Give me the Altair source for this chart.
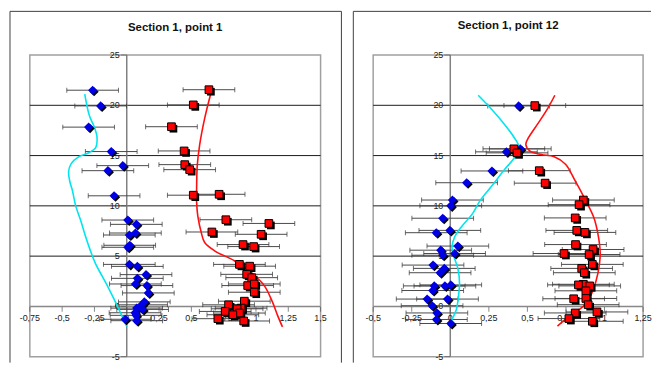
import altair as alt
import pandas as pd

# ---------------- Panel 1: Section 1, point 1 ----------------
p1_title = "Section 1, point 1"
p1_xticks = [-0.75, -0.5, -0.25, 0, 0.25, 0.5, 0.75, 1, 1.25, 1.5]
p1_xlabels = ["-0,75", "-0,5", "-0,25", "0", "0,25", "0,5", "0,75", "1", "1,25", "1,5"]
p1_blue_x = [-0.264, -0.202, -0.295, -0.12, -0.031, -0.146, -0.098, 0.008, 0.074, 0.02,
             0.067, 0.023, 0.008, 0.02, 0.082, 0.149, 0.082, 0.067, 0.156, 0.167,
             0.136, 0.115, 0.077, 0.123, 0.064, 0.072, -0.013, 0.077]
p1_blue_y = [21.5, 19.94, 17.83, 15.4, 14.0, 13.5, 11.0, 8.59, 8.16, 7.1,
             7.3, 6.08, 5.88, 4.18, 3.98, 3.16, 2.79, 2.23, 2.07, 1.34,
             0.45, 0.16, -0.17, -0.3, -0.63, -0.89, -1.28, -1.42]
p1_blue_err = [0.2] * 28
p1_red_x = [0.636, 0.515, 0.346, 0.444, 0.449, 0.487, 0.515, 0.715, 0.767, 1.1,
            0.659, 1.04, 0.9, 0.982, 0.872, 0.951, 0.928, 0.967, 0.936, 0.987,
            0.987, 0.91, 0.788, 0.885, 0.854, 0.762, 0.872, 0.821, 0.705, 0.905]
p1_red_y = [21.55, 20.04, 17.87, 15.46, 14.1, 13.6, 11.06, 11.15, 8.62, 8.25,
            7.4, 7.17, 6.15, 5.95, 4.18, 4.0, 3.19, 2.86, 2.07, 2.23,
            1.41, 0.52, 0.16, -0.17, -0.24, -0.5, -0.66, -0.83, -1.22, -1.45]
p1_red_err = [0.2] * 30
p1_cyan_x = [-0.325, -0.29, -0.25, -0.23, -0.24, -0.29, -0.37, -0.43, -0.45, -0.44, -0.42,
             -0.395, -0.355, -0.32, -0.28, -0.24, -0.19, -0.14, -0.09, -0.05, 0.0]
p1_cyan_y = [21.1, 19.0, 17.8, 16.8, 15.8, 15.3, 14.9, 14.2, 13.4, 12.4, 11.5,
             10.0, 8.5, 7.0, 5.5, 4.2, 3.0, 1.8, 0.5, -0.6, -2.0]
p1_redline_x = [0.65, 0.603, 0.564, 0.546, 0.541, 0.541, 0.55, 0.577, 0.603, 0.68,
                0.833, 0.96, 1.064, 1.128, 1.167, 1.205]
p1_redline_y = [21.15, 18.7, 16.05, 14.08, 12.0, 10.3, 8.98, 7.33, 6.35, 5.53,
                4.54, 3.39, 2.07, 0.42, -0.89, -2.04]

# ---------------- Panel 2: Section 1, point 12 ----------------
p2_title = "Section 1, point 12"
p2_xticks = [-0.5, -0.25, 0, 0.25, 0.5, 0.75, 1, 1.25]
p2_xlabels = ["-0,5", "-0,25", "0", "0,25", "0,5", "0,75", "1", "1,25"]
p2_blue_x = [0.443, 0.364, 0.454, 0.27, 0.106, 0.014, 0.003, -0.049, -0.091, -0.003,
             0.049, -0.062, 0.028, -0.049, -0.112, -0.039, -0.066, -0.104, -0.035, 0.003,
             -0.114, -0.15, -0.018, -0.118, -0.087, -0.09, 0.003]
p2_blue_y = [19.94, 15.37, 15.67, 13.47, 12.3, 10.58, 10.0, 8.77, 7.33, 7.56,
             6.0, 5.59, 5.26, 5.09, 4.11, 3.78, 3.35, 2.04, 2.04, 2.14,
             1.58, 0.73, 0.73, 0.07, -0.65, -1.3, -1.7]
p2_blue_err = [0.2] * 27
p2_red_x = [0.548, 0.412, 0.433, 0.577, 0.615, 0.863, 0.835, 0.81, 0.82, 0.873,
            0.812, 0.926, 0.737, 0.9, 0.921, 0.852, 0.869, 0.863, 0.831, 0.904,
            0.879, 0.8, 0.879, 0.894, 0.81, 0.951, 0.769, 0.921]
p2_red_y = [19.97, 15.67, 15.27, 13.5, 12.26, 10.58, 10.12, 8.8, 7.56, 7.36,
            6.15, 5.66, 5.26, 5.16, 4.18, 3.78, 3.35, 2.2, 2.14, 2.04,
            1.55, 0.76, 0.79, 0.17, -0.65, -0.55, -1.21, -1.48]
p2_red_err = [0.2] * 28
p2_cyan_x = [0.181, 0.25, 0.353, 0.416, 0.448, 0.416, 0.353, 0.27, 0.192, 0.143,
             0.07, 0.028, 0.011, 0.024, 0.049, 0.06, 0.053, 0.039, 0.011, 0.0]
p2_cyan_y = [21.0, 19.9, 18.07, 16.75, 15.76, 14.78, 13.63, 12.0, 10.5, 9.2,
             7.88, 6.9, 5.9, 4.93, 3.78, 2.3, 0.99, -0.33, -1.31, -1.8]
p2_redline_x = [0.678, 0.632, 0.569, 0.506, 0.49, 0.517, 0.59, 0.674, 0.747, 0.81,
                0.873, 0.93, 0.957, 0.972, 0.957, 0.926, 0.884, 0.82, 0.758, 0.695]
p2_redline_y = [21.0, 19.7, 18.2, 16.75, 16.1, 15.44, 15.1, 14.88, 14.13, 12.48,
                10.68, 8.87, 7.23, 5.26, 3.29, 1.65, 0.33, -0.49, -1.15, -1.97]

y_ticks = [25, 20, 15, 10, 5, 0, -5]
y_grid = [20, 15, 10, 5]

FONT = "Liberation Sans"
FRAME = "#404040"


def panel(title, xdom, xticks, xlabels, bx, by, be, rx, ry, re_, cx, cy, lx, ly,
          W, H, ftop, fleft, fright, fbot, right_side, title_y):
    xs = alt.Scale(domain=xdom, nice=False, zero=False)
    ys = alt.Scale(domain=[-5, 25], nice=False, zero=False)

    def X(f):
        return alt.X(f, type="quantitative", scale=xs, axis=None)

    def Y(f):
        return alt.Y(f, type="quantitative", scale=ys, axis=None)

    one = pd.DataFrame({"a": [0]})
    layers = []
    layers.append(alt.Chart(one).mark_rule(color=FRAME, strokeWidth=1).encode(
        x=alt.value(-fleft), y=alt.value(-ftop), y2=alt.value(H + fbot)))
    layers.append(alt.Chart(one).mark_rule(color=FRAME, strokeWidth=1).encode(
        x=alt.value(-fleft), x2=alt.value(W + fright), y=alt.value(-ftop)))
    if right_side:
        layers.append(alt.Chart(one).mark_rule(color=FRAME, strokeWidth=1).encode(
            x=alt.value(W + fright), y=alt.value(-ftop), y2=alt.value(H + fbot)))
    layers.append(alt.Chart(one).mark_text(font=FONT, fontSize=11.5, fontWeight="bold", color="#111",
                                           align="center", baseline="middle").encode(
        x=alt.value(W / 2), y=alt.value(title_y), text=alt.value(title)))

    layers.append(alt.Chart(pd.DataFrame({"gy": y_grid})).mark_rule(color="#1a1a1a", strokeWidth=1).encode(
        y=Y("gy")))
    layers.append(alt.Chart(pd.DataFrame({"gy": [0]})).mark_rule(color="#888888", strokeWidth=1.5).encode(
        y=Y("gy")))
    layers.append(alt.Chart(pd.DataFrame({"gx": [0]})).mark_rule(color="#808080", strokeWidth=1.5).encode(
        x=X("gx")))

    yt = pd.DataFrame({"tx": [0] * len(y_ticks), "ty": y_ticks, "lab": [str(v) for v in y_ticks]})
    layers.append(alt.Chart(yt).mark_tick(orient="horizontal", size=6, thickness=1, color="#555",
                                          xOffset=-3).encode(x=X("tx"), y=Y("ty")))
    layers.append(alt.Chart(yt).mark_text(font=FONT, fontSize=9, color="#222", align="right",
                                          baseline="middle", dx=-7).encode(x=X("tx"), y=Y("ty"), text="lab:N"))

    xt = pd.DataFrame({"tx": xticks, "ty": [0] * len(xticks), "lab": xlabels})
    layers.append(alt.Chart(xt).mark_tick(orient="vertical", size=5, thickness=1, color="#555",
                                          yOffset=3).encode(x=X("tx"), y=Y("ty")))
    layers.append(alt.Chart(xt).mark_text(font=FONT, fontSize=9, color="#222", align="center",
                                          baseline="middle", dy=12).encode(x=X("tx"), y=Y("ty"), text="lab:N"))

    ex = list(bx) + list(rx)
    ey = list(by) + list(ry)
    ee = list(be) + list(re_)
    err = pd.DataFrame({"lo": [a - e for a, e in zip(ex, ee)], "hi": [a + e for a, e in zip(ex, ee)], "y": ey})
    layers.append(alt.Chart(err).mark_rule(color="#4a4a4a", strokeWidth=1).encode(
        x=X("lo"), x2="hi", y=Y("y")))
    caps = pd.DataFrame({"cx": list(err["lo"]) + list(err["hi"]), "cy": ey + ey})
    layers.append(alt.Chart(caps).mark_tick(orient="vertical", size=5, thickness=1, color="#333").encode(
        x=X("cx"), y=Y("cy")))

    layers.append(alt.Chart(pd.DataFrame({"x": cx, "y": cy, "i": range(len(cx))})).mark_line(
        color="#00e5ee", strokeWidth=1.6, interpolate="catmull-rom").encode(x=X("x"), y=Y("y"), order="i:Q"))
    layers.append(alt.Chart(pd.DataFrame({"x": lx, "y": ly, "i": range(len(lx))})).mark_line(
        color="#ff1010", strokeWidth=1.6, interpolate="catmull-rom").encode(x=X("x"), y=Y("y"), order="i:Q"))

    bdf = pd.DataFrame({"x": bx, "y": by})
    rdf = pd.DataFrame({"x": rx, "y": ry})
    layers.append(alt.Chart(bdf).mark_point(shape="diamond", filled=True, size=85, color="black", opacity=1,
                                            xOffset=1.5, yOffset=1.5).encode(x=X("x"), y=Y("y")))
    layers.append(alt.Chart(bdf).mark_point(shape="diamond", filled=True, size=85, color="#0000e6",
                                            opacity=1).encode(x=X("x"), y=Y("y")))
    layers.append(alt.Chart(rdf).mark_point(shape="square", filled=True, size=60, color="black", opacity=1,
                                            xOffset=2, yOffset=2).encode(x=X("x"), y=Y("y")))
    layers.append(alt.Chart(rdf).mark_point(shape="square", filled=True, size=60, fill="#ff0000",
                                            stroke="#000", strokeWidth=1, opacity=1).encode(x=X("x"), y=Y("y")))

    return alt.layer(*layers).properties(width=W, height=H)


c1 = panel(p1_title, [-0.75, 1.5], p1_xticks, p1_xlabels, p1_blue_x, p1_blue_y, p1_blue_err,
           p1_red_x, p1_red_y, p1_red_err, p1_cyan_x, p1_cyan_y, p1_redline_x, p1_redline_y,
           293, 304, 44, 20, 21, 6, True, -27)
c2 = panel(p2_title, [-0.5, 1.25], p2_xticks, p2_xlabels, p2_blue_x, p2_blue_y, p2_blue_err,
           p2_red_x, p2_red_y, p2_red_err, p2_cyan_x, p2_cyan_y, p2_redline_x, p2_redline_y,
           272, 304, 44, 20, 8, 6, False, -29)

chart = alt.hconcat(c1, c2, spacing=8).properties(padding=0).configure_view(
    stroke="#a0a0a0", strokeWidth=1.5)

chart.save("out.html", embed_options={"renderer": "svg", "actions": False})
